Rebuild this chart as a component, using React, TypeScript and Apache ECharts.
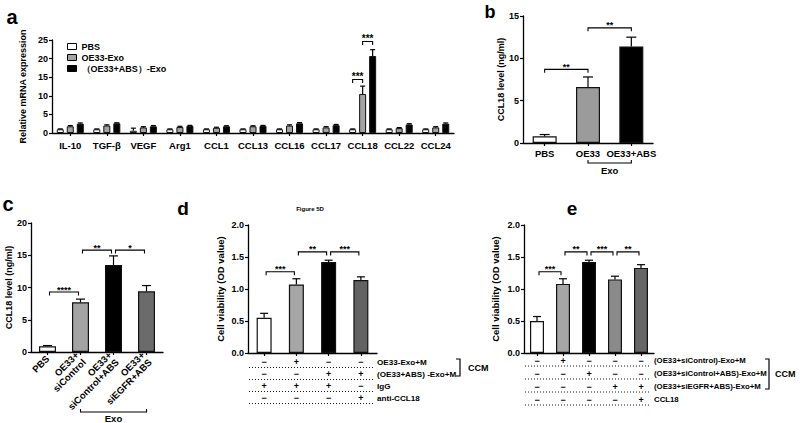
import React, { useEffect, useRef } from 'react';
import * as echarts from 'echarts';

const FONT = '"Liberation Sans", Arial, sans-serif';

// ---------- Panel a ----------
const aCategories = ['IL-10', 'TGF-β', 'VEGF', 'Arg1', 'CCL1', 'CCL13', 'CCL16', 'CCL17', 'CCL18', 'CCL22', 'CCL24'];
const aSeriesNames = ['PBS', 'OE33-Exo', '（OE33+ABS）-Exo'];
const aPBS = [1.0, 1.0, 0.6, 1.0, 1.0, 1.0, 1.0, 1.0, 1.0, 1.0, 1.0];
const aOE33 = [1.8, 2.0, 1.5, 1.6, 1.4, 1.8, 2.0, 1.5, 10.5, 1.3, 1.5];
const aABS = [2.5, 2.6, 1.8, 1.9, 1.8, 1.9, 2.6, 2.1, 20.7, 2.3, 2.5];
const aPBSErr = [0.1, 0.1, 0.7, 0.1, 0.1, 0.1, 0.1, 0.1, 0.1, 0.1, 0.1];
const aOE33Err = [0.2, 0.2, 0.2, 0.2, 0.15, 0.15, 0.2, 0.2, 2.1, 0.15, 0.2];
const aABSErr = [0.2, 0.15, 0.2, 0.15, 0.15, 0.15, 0.2, 0.2, 1.7, 0.2, 0.2];
// [cat1, series1, cat2, series2, height, label]
const aBrackets: [number, number, number, number, number, string][] = [
  [8, 0, 8, 1, 14.4, '***'],
  [8, 1, 8, 2, 24.6, '***'],
];

// ---------- Panel b ----------
const bCategories = ['PBS', 'OE33', 'OE33+ABS'];
const bValues = [0.8, 6.6, 11.4];
const bErr = [0.2, 1.2, 1.1];
const bBrackets: [number, number, number, number, number, string][] = [
  [0, 1, 1, 1, 8.7, '**'],
  [1, 1, 2, 1, 13.6, '**'],
];

// ---------- Panel c ----------
const cCategories = ['PBS', 'OE33+\nsiControl', 'OE33+\nsiControl+ABS', 'OE33+\nsiEGFR+ABS'];
const cValues = [0.9, 7.7, 13.5, 9.4];
const cErr = [0.1, 0.5, 1.4, 0.9];
const cBrackets: [number, number, number, number, number, string][] = [
  [0, 1, 1, 1, 9.3, '****'],
  [1, 1, 2, 1, 15.8, '**'],
  [2, 1, 3, 1, 15.8, '*'],
];

// ---------- Panel d ----------
const dColumns = ['1', '2', '3', '4'];
const dValues = [0.55, 1.07, 1.42, 1.14];
const dErr = [0.07, 0.09, 0.03, 0.05];
const dBrackets: [number, number, number, number, number, string][] = [
  [0, 1, 1, 1, 1.27, '***'],
  [1, 1, 2, 1, 1.58, '**'],
  [2, 1, 3, 1, 1.58, '***'],
];
const dRowLabels = ['OE33-Exo+M', '(OE33+ABS) -Exo+M', 'IgG', 'anti-CCL18'];
const dSigns = [
  ['−', '+', '−', '−'],
  ['−', '−', '+', '+'],
  ['+', '+', '+', '−'],
  ['−', '−', '−', '+'],
];

// ---------- Panel e ----------
const eColumns = ['1', '2', '3', '4', '5'];
const eValues = [0.5, 1.08, 1.42, 1.15, 1.33];
const eErr = [0.07, 0.08, 0.03, 0.05, 0.05];
const eBrackets: [number, number, number, number, number, string][] = [
  [0, 1, 1, 1, 1.27, '***'],
  [1, 1, 2, 1, 1.58, '**'],
  [2, 1, 3, 1, 1.58, '***'],
  [3, 1, 4, 1, 1.58, '**'],
];
const eRowLabels = ['(OE33+siControl)-Exo+M', '(OE33+siControl+ABS)-Exo+M', '(OE33+siEGFR+ABS)-Exo+M', 'CCL18'];
const eSigns = [
  ['−', '+', '−', '−', '−'],
  ['−', '−', '+', '−', '−'],
  ['−', '−', '−', '+', '+'],
  ['−', '−', '−', '−', '+'],
];

const aColors = ['#ffffff', '#a3a3a3', '#000000'];
const bColors = ['#ffffff', '#9b9b9b', '#000000'];
const cColors = ['#ffffff', '#a3a3a3', '#000000', '#6b6b6b'];
const dColors = ['#ffffff', '#a6a6a6', '#000000', '#626262'];
const eColors = ['#ffffff', '#a6a6a6', '#000000', '#8a8a8a', '#666666'];

const txt = { color: '#000', fontFamily: FONT, fontWeight: 'bold' as const };
const BORDER = '#111';

function yAxisDef(grid: number, max: number, interval: number, name: string, nameGap: number, nameSize: number, fmt?: (v: number) => string) {
  return {
    type: 'value', gridIndex: grid, min: 0, max, interval,
    name, nameLocation: 'middle', nameGap, nameRotate: 90,
    nameTextStyle: { ...txt, fontSize: nameSize },
    axisLine: { show: true, lineStyle: { color: '#000', width: 1.3 } },
    axisTick: { show: true, length: 3, lineStyle: { color: '#000', width: 1.2 } },
    splitLine: { show: false },
    axisLabel: { ...txt, fontSize: 9, margin: 4, formatter: fmt },
  };
}

function xAxisDef(grid: number, data: string[], label: any) {
  return {
    type: 'category', gridIndex: grid, data,
    axisLine: { show: true, lineStyle: { color: '#000', width: 1.3 } },
    axisTick: { show: true, alignWithLabel: true, length: 3, lineStyle: { color: '#000', width: 1.2 } },
    axisLabel: { ...txt, fontSize: 9.5, margin: 6, interval: 0, ...label },
  };
}

function barSeries(grid: number, values: number[], colors: string[], barWidth: number) {
  return {
    type: 'bar', xAxisIndex: grid, yAxisIndex: grid, barWidth,
    data: values.map((v, i) => ({ value: v, itemStyle: { color: colors[i] } })),
    itemStyle: { borderColor: BORDER, borderWidth: 1.2 },
  };
}

function errSeries(grid: number, data: number[][], offset: (s: number) => number, capHalf: number) {
  return {
    type: 'custom', xAxisIndex: grid, yAxisIndex: grid, data, z: 5, clip: false, silent: true,
    renderItem: (params: any, api: any) => {
      const c = api.value(0), v = api.value(1), e = api.value(2), s = api.value(3);
      const p0 = api.coord([c, v]);
      const p1 = api.coord([c, v + e]);
      const x = p0[0] + offset(s);
      return {
        type: 'group', children: [
          { type: 'line', shape: { x1: x, y1: p0[1], x2: x, y2: p1[1] }, style: { stroke: '#000', lineWidth: 1.2 } },
          { type: 'line', shape: { x1: x - capHalf, y1: p1[1], x2: x + capHalf, y2: p1[1] }, style: { stroke: '#000', lineWidth: 1.2 } },
        ],
      };
    },
  };
}

function bracketSeries(grid: number, list: [number, number, number, number, number, string][], offset: (s: number) => number, inset: number, fontSize: number) {
  return {
    type: 'custom', xAxisIndex: grid, yAxisIndex: grid, z: 6, clip: false, silent: true,
    data: list.map((b) => [b[0], b[4]]),
    renderItem: (params: any, api: any) => {
      const b = list[params.dataIndex];
      const p1 = api.coord([b[0], b[4]]);
      const p2 = api.coord([b[2], b[4]]);
      const x1 = p1[0] + offset(b[1]) + inset;
      const x2 = p2[0] + offset(b[3]) - inset;
      const y = p1[1];
      return {
        type: 'group', children: [
          { type: 'polyline', shape: { points: [[x1, y + 3.5], [x1, y], [x2, y], [x2, y + 3.5]] }, style: { stroke: '#000', lineWidth: 1.1, fill: 'none' } },
          { type: 'text', x: (x1 + x2) / 2, y: y + 2, style: { text: b[5], align: 'center', verticalAlign: 'bottom', fontSize, fontFamily: FONT, fontWeight: 'bold', fill: '#000' } },
        ],
      };
    },
  };
}

function underSeries(grid: number, c1: number, c2: number, lineOff: number, label: string, textOff: number) {
  return {
    type: 'custom', xAxisIndex: grid, yAxisIndex: grid, z: 6, clip: false, silent: true,
    data: [[c1, 0]],
    renderItem: (params: any, api: any) => {
      const p1 = api.coord([c1, 0]);
      const p2 = api.coord([c2, 0]);
      const y = p1[1] + lineOff;
      return {
        type: 'group', children: [
          { type: 'polyline', shape: { points: [[p1[0], y - 3], [p1[0], y], [p2[0], y], [p2[0], y - 3]] }, style: { stroke: '#000', lineWidth: 1.1, fill: 'none' } },
          { type: 'text', x: (p1[0] + p2[0]) / 2, y: y + textOff, style: { text: label, align: 'center', verticalAlign: 'middle', fontSize: 9.5, fontFamily: FONT, fontWeight: 'bold', fill: '#000' } },
        ],
      };
    },
  };
}

function tableSeries(grid: number, labels: string[], signs: string[][], startOff: number, spacing: number, labelSize: number) {
  return {
    type: 'custom', xAxisIndex: grid, yAxisIndex: grid, z: 6, clip: false, silent: true,
    data: labels.map(() => [0, 0]),
    renderItem: (params: any, api: any) => {
      const i = params.dataIndex;
      const row = signs[i];
      const n = row.length;
      const bw = api.size([1, 0])[0];
      const o = api.coord([0, 0]);
      const x0 = o[0] - bw / 2;
      const y = o[1] + startOff + i * spacing;
      const children: any[] = [];
      row.forEach((s, j) => {
        children.push({ type: 'text', x: api.coord([j, 0])[0], y, style: { text: s, align: 'center', verticalAlign: 'middle', fontSize: 9, fontFamily: FONT, fontWeight: 'bold', fill: '#000' } });
      });
      children.push({ type: 'line', shape: { x1: x0 + 1, y1: y + 5.5, x2: x0 + n * bw - 3, y2: y + 5.5 }, style: { stroke: '#000', lineWidth: 0.9, lineDash: [1, 2] } });
      children.push({ type: 'text', x: x0 + n * bw, y, style: { text: labels[i], align: 'left', verticalAlign: 'middle', fontSize: labelSize, fontFamily: FONT, fontWeight: 'bold', fill: '#000' } });
      return { type: 'group', children };
    },
  };
}

function letter(text: string, x: number, baseline: number, size: number) {
  return { type: 'text', x, y: baseline + size * 0.21, style: { text, fontSize: size, fontFamily: FONT, fontWeight: 'bold', fill: '#000', align: 'center', verticalAlign: 'bottom' } };
}

function ccm(x: number, y1: number, y2: number, gap: number) {
  return [
    { type: 'polyline', shape: { points: [[x - 4, y1], [x, y1], [x, y2], [x - 4, y2]] }, style: { stroke: '#000', lineWidth: 1.2, fill: 'none' } },
    { type: 'text', x: x + gap, y: (y1 + y2) / 2, style: { text: 'CCM', fontSize: 9, fontFamily: FONT, fontWeight: 'bold', fill: '#000', align: 'left', verticalAlign: 'middle' } },
  ];
}

const fmt1 = (v: number) => v.toFixed(1);

export default function App() {
  const ref = useRef<HTMLDivElement>(null);
  useEffect(() => {
    if (!ref.current) return;
    const chart = echarts.init(ref.current, undefined, { renderer: 'svg' });
    const aOff = (s: number) => (s - 1) * 10;
    const zero = (_s: number) => 0;
    const aErrData: number[][] = [];
    [aPBS, aOE33, aABS].forEach((vals, s) => {
      const errs = [aPBSErr, aOE33Err, aABSErr][s];
      vals.forEach((v, i) => aErrData.push([i, v, errs[i], s]));
    });
    const mk = (vals: number[], errs: number[]) => vals.map((v, i) => [i, v, errs[i], 1]);

    const option: any = {
      animation: false,
      backgroundColor: '#fff',
      textStyle: { fontFamily: FONT },
      grid: [
        { left: 52, top: 40, width: 402, height: 93 },
        { left: 523, top: 16, width: 130, height: 127 },
        { left: 31, top: 223, width: 132, height: 129 },
        { left: 248, top: 225, width: 129, height: 128 },
        { left: 524, top: 225, width: 130, height: 128 },
      ],
      legend: {
        data: aSeriesNames, orient: 'vertical', left: 62, top: 37,
        itemWidth: 9, itemHeight: 6, itemGap: 2, icon: 'rect',
        textStyle: { ...txt, fontSize: 9 },
        itemStyle: { borderColor: '#000', borderWidth: 1 },
      },
      xAxis: [
        xAxisDef(0, aCategories, { fontSize: 9.5, margin: 7 }),
        xAxisDef(1, bCategories, { fontSize: 9.5, margin: 5 }),
        xAxisDef(2, cCategories, { fontSize: 9.5, margin: 5, rotate: 45, lineHeight: 10 }),
        xAxisDef(3, dColumns, { show: false }),
        xAxisDef(4, eColumns, { show: false }),
      ],
      yAxis: [
        yAxisDef(0, 25, 5, 'Relative mRNA expression', 14, 9),
        yAxisDef(1, 15, 5, 'CCL18 level (ng/ml)', 14, 9),
        yAxisDef(2, 20, 5, 'CCL18 level (ng/ml)', 17, 9),
        yAxisDef(3, 2, 0.5, 'Cell viability (OD value)', 23, 9.5, fmt1),
        yAxisDef(4, 2, 0.5, 'Cell viability (OD value)', 24, 9.5, fmt1),
      ],
      series: [
        ...[aPBS, aOE33, aABS].map((vals, s) => ({
          name: aSeriesNames[s], type: 'bar', xAxisIndex: 0, yAxisIndex: 0,
          barWidth: 7, barGap: '43%', data: vals,
          itemStyle: { color: aColors[s], borderColor: BORDER, borderWidth: 1 },
        })),
        errSeries(0, aErrData, aOff, 2.5),
        bracketSeries(0, aBrackets, aOff, 0, 10),

        barSeries(1, bValues, bColors, 24),
        errSeries(1, mk(bValues, bErr), zero, 5),
        bracketSeries(1, bBrackets, zero, 0, 9),
        underSeries(1, 1, 2, 20, 'Exo', 7),

        barSeries(2, cValues, cColors, 17),
        errSeries(2, mk(cValues, cErr), zero, 4.5),
        bracketSeries(2, cBrackets, zero, 2, 9),
        underSeries(2, 1, 3, 60, 'Exo', 6),

        barSeries(3, dValues, dColors, 15),
        errSeries(3, mk(dValues, dErr), zero, 4),
        bracketSeries(3, dBrackets, zero, 2, 9),
        tableSeries(3, dRowLabels, dSigns, 9, 12, 8.1),

        barSeries(4, eValues, eColors, 14),
        errSeries(4, mk(eValues, eErr), zero, 4),
        bracketSeries(4, eBrackets, zero, 2, 9),
        tableSeries(4, eRowLabels, eSigns, 7.5, 13, 7.8),
      ],
      graphic: [
        letter('a', 12, 23, 20),
        letter('b', 490, 17, 18),
        letter('c', 8, 210, 20),
        letter('d', 183, 214, 19),
        letter('e', 572, 214, 19),
        { type: 'text', x: 310, y: 209, style: { text: 'Figure 5D', fontSize: 6, fontFamily: FONT, fontWeight: 'bold', fill: '#000', align: 'center', verticalAlign: 'middle' } },
        ...ccm(460, 359, 376, 8),
        ...ccm(769, 359, 389, 6),
      ],
    };
    chart.setOption(option);
    return () => chart.dispose();
  }, []);
  return <div ref={ref} style={{ position: 'fixed', left: 0, top: 0, width: 800, height: 423, background: '#fff' }} />;
}
